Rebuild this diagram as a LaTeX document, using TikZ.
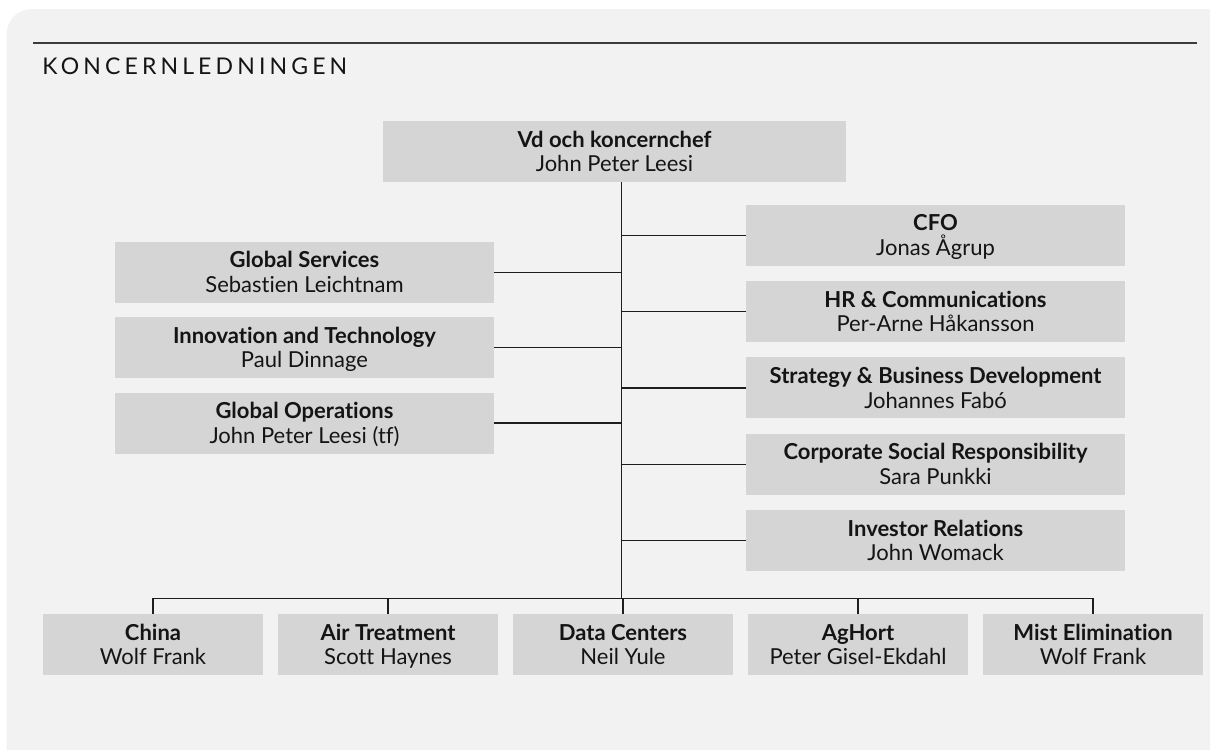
\documentclass[tikz,border=0pt]{standalone}
\usepackage{fontspec}
\setmainfont{Lato}[Ligatures=NoCommon]
\newfontfamily\spacedfont[LetterSpace=18]{Lato}
\usepackage{tikz}
\usetikzlibrary{positioning}

\definecolor{bggray}{RGB}{242,242,242}
\definecolor{boxgray}{RGB}{213,213,213}
\definecolor{linegray}{RGB}{30,30,30}
\definecolor{rulegray}{RGB}{60,60,60}
\definecolor{textblack}{RGB}{20,20,20}

\begin{document}
\begin{tikzpicture}[
x=0.5pt, y=-0.5pt,
node distance=7.25pt,
box/.style={fill=boxgray, text=textblack, minimum width=189.5pt, minimum height=30.5pt,
  inner sep=0pt, align=center, text height=20.1pt, text depth=0pt,
  font=\fontsize{11}{12.3}\selectfont},
ceobox/.style={box, minimum width=231.5pt},
unitbox/.style={box, minimum width=109.75pt},
link/.style={draw=linegray, line width=0.6pt}
]
\useasboundingbox (0,0) rectangle (1210,750);

% background and heading
\fill[bggray] (6.7,750) -- (6.7,34) arc[start angle=180, end angle=90, radius=12.5pt]
  -- (1210,9) -- (1210,750) -- cycle;
\draw[rulegray, line width=0.75pt] (33,43) -- (1197,43);
\node[anchor=base west, inner sep=0pt, text=textblack,
  font=\spacedfont\fontsize{11.5}{13}\selectfont] (title) at (42,74) {KONCERNLEDNINGEN};

% top
\node[ceobox] (ceo) at (614.5,151.5) {\textbf{Vd och koncernchef}\\John Peter Leesi};
\coordinate (top) at ([xshift=3.4pt]ceo.south);

% staff, right side
\node[box] (cfo) at (935.5,235.3) {\textbf{CFO}\\Jonas Ågrup};
\node[box, below=of cfo] (hr) {\textbf{HR \& Communications}\\Per-Arne Håkansson};
\node[box, below=of hr] (sbd) {\textbf{Strategy \& Business Development}\\Johannes Fabó};
\node[box, below=of sbd] (csr) {\textbf{Corporate Social Responsibility}\\Sara Punkki};
\node[box, below=of csr] (ir) {\textbf{Investor Relations}\\John Womack};

% staff, left side
\node[box] (gs) at (304.5,272.2) {\textbf{Global Services}\\Sebastien Leichtnam};
\node[box, below=6.8pt of gs] (it) {\textbf{Innovation and Technology}\\Paul Dinnage};
\node[box, below=6.8pt of it] (go) {\textbf{Global Operations}\\John Peter Leesi (tf)};

% business units
\node[unitbox] (china) at (153,644.85) {\textbf{China}\\Wolf Frank};
\node[unitbox, right=7.35pt of china] (air) {\textbf{Air Treatment}\\Scott Haynes};
\node[unitbox, right=7.35pt of air] (data) {\textbf{Data Centers}\\Neil Yule};
\node[unitbox, right=7.35pt of data] (aghort) {\textbf{AgHort}\\Peter Gisel-Ekdahl};
\node[unitbox, right=7.35pt of aghort] (mist) {\textbf{Mist Elimination}\\Wolf Frank};
\coordinate (bus) at ([yshift=7.85pt]china.north);

% lines
\draw[link] (top) -- (top |- bus);
\foreach \n in {cfo,hr,sbd,csr,ir}
  \draw[link] (\n.west) -- (\n.west -| top);
\foreach \n in {gs,it,go}
  \draw[link] (\n.east) -- (\n.east -| top);
\draw[link] (china.north) -- (bus) -| (mist.north);
\foreach \n in {air,data,aghort}
  \draw[link] (\n.north) -- (\n.north |- bus);

\end{tikzpicture}
\end{document}
